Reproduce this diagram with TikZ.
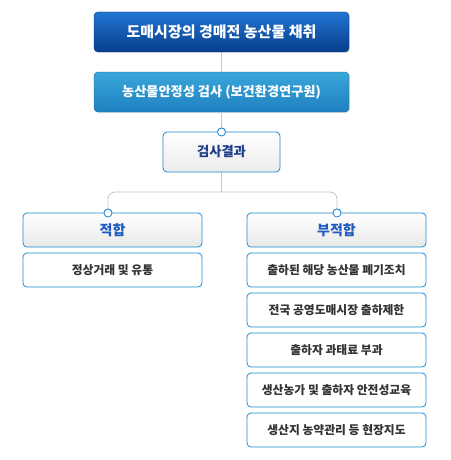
\documentclass[tikz,border=0pt]{standalone}
\usepackage{fontspec}
\newfontfamily\kr{Noto Sans CJK KR}
\usetikzlibrary{shadows}
\definecolor{bordblue}{HTML}{1A8AD2}
\definecolor{topA}{HTML}{2274D2}
\definecolor{topB}{HTML}{063E8C}
\definecolor{secA}{HTML}{3AA7DA}
\definecolor{secB}{HTML}{1E80C0}
\definecolor{navy}{HTML}{1D3F8A}
\definecolor{okblue}{HTML}{1F5BC0}
\definecolor{txtgray}{HTML}{333333}
\definecolor{linegray}{HTML}{C4C4C4}
\tikzset{
  base/.style={rounded corners=4pt, inner sep=0pt, align=center, font=\kr\bfseries},
  topbox/.style={base, draw=topB!80!black, top color=topA, bottom color=topB, text=white,
     minimum width=255pt, minimum height=40pt, font=\kr\bfseries\fontsize{15}{17}\selectfont,
     drop shadow={opacity=0.2, shadow xshift=1pt, shadow yshift=-1pt}},
  secbox/.style={base, draw=secB!80!black, top color=secA, bottom color=secB, text=white,
     minimum width=255pt, minimum height=40pt, font=\kr\bfseries\fontsize{13.2}{15}\selectfont,
     drop shadow={opacity=0.2, shadow xshift=1pt, shadow yshift=-1pt}},
  resbox/.style={base, draw=bordblue, line width=0.8pt, top color=white, bottom color=black!8, text=navy,
     minimum width=117pt, minimum height=40pt, font=\kr\bfseries\fontsize{13.3}{15}\selectfont},
  catbox/.style={base, draw=bordblue, line width=0.8pt, top color=white, bottom color=black!9, text=okblue,
     minimum width=179pt, minimum height=34pt, font=\kr\bfseries\fontsize{14}{16}\selectfont},
  itembox/.style={base, draw=bordblue, line width=0.8pt, fill=white, text=txtgray,
     minimum width=179pt, minimum height=34pt, font=\kr\bfseries\fontsize{11.8}{14}\selectfont},
  conn/.style={draw=linegray, line width=0.8pt},
  dot/.style={circle, draw=bordblue, fill=white, line width=0.8pt, minimum size=8pt, inner sep=0pt},
}
\begin{document}
\begin{tikzpicture}[x=1pt, y=-1pt]
\useasboundingbox (0,0) rectangle (450,460);
\coordinate (j) at (221.5,192);
\node[dot] (c0) at (221.5,132) {};
\node[dot] (c1) at (108,213) {};
\node[dot] (c2) at (337,213) {};
\node[topbox] (top) at (221.5,32) {도매시장의 경매전 농산물 채취};
\node[secbox] (sec) at (221.5,92) {농산물안정성 검사 (보건환경연구원)};
\node[resbox] (res) at (221.5,152) {검사결과};
\draw[conn] (top.south) -- (sec.north);
\draw[conn] (sec.south) -- (c0.north);
\draw[conn] (res.south) -- (j);
\draw[conn, rounded corners=7pt] (j) -| (c1.north);
\draw[conn, rounded corners=7pt] (j) -| (c2.north);
\node[catbox] (ok) at (112.5,230) {적합};
\node[catbox] (nok) at (336.5,230) {부적합};
\node[itembox] (i0) at (112.5,270) {정상거래 및 유통};
\node[itembox] (r1) at (336.5,270) {출하된 해당 농산물 폐기조치};
\node[itembox] (r2) at (336.5,310) {전국 공영도매시장 출하제한};
\node[itembox] (r3) at (336.5,350) {출하자 과태료 부과};
\node[itembox] (r4) at (336.5,390) {생산농가 및 출하자 안전성교육};
\node[itembox] (r5) at (336.5,430) {생산지 농약관리 등 현장지도};
\node[dot] at (c0) {};
\node[dot] at (c1) {};
\node[dot] at (c2) {};
\end{tikzpicture}
\end{document}
